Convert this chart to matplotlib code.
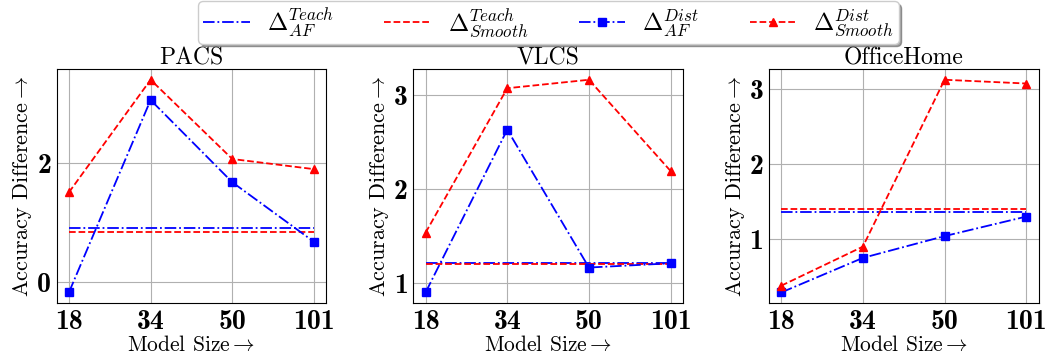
import numpy as np
import matplotlib
matplotlib.use("Agg")
import matplotlib.pyplot as plt

plt.rcParams['font.family'] = 'serif'
plt.rcParams['font.serif'] = ['cmr10']
plt.rcParams['mathtext.fontset'] = 'cm'
plt.rcParams['axes.unicode_minus'] = False

# datos
sizes = ['18', '34', '50', '101']
datasets = ['PACS', 'VLCS', 'OfficeHome']

dist_af = [[-0.17, 3.06, 1.68, 0.68],
           [0.90, 2.63, 1.165, 1.21],
           [0.29, 0.75, 1.04, 1.30]]
dist_smooth = [[1.51, 3.40, 2.07, 1.90],
               [1.535, 3.07, 3.16, 2.19],
               [0.38, 0.90, 3.12, 3.07]]
teach_af = [0.91, 1.21, 1.36]
teach_smooth = [0.85, 1.20, 1.40]

yticks = [[0, 2], [1, 2, 3], [1, 2, 3]]

fig = plt.figure(figsize=(10.49, 3.6), dpi=100)
lefts = [0.054, 0.394, 0.733]
x = np.arange(len(sizes))

for i, name in enumerate(datasets):
    ax = fig.add_axes([lefts[i], 0.158, 0.257, 0.65])
    l1, = ax.plot([x[0], x[-1]], [teach_af[i]] * 2, color='blue', ls='-.', lw=1.3)
    l2, = ax.plot([x[0], x[-1]], [teach_smooth[i]] * 2, color='red', ls='--', lw=1.3)
    l3, = ax.plot(x, dist_af[i], color='blue', ls='-.', marker='s', ms=6, lw=1.3)
    l4, = ax.plot(x, dist_smooth[i], color='red', ls='--', marker='^', ms=6, lw=1.3)
    ax.grid(True, color='#b0b0b0', lw=0.8)
    ax.set_xticks(x)
    ax.set_xticklabels(sizes, fontsize=20, family='cmb10')
    ax.set_yticks(yticks[i])
    ax.set_yticklabels([str(v) for v in yticks[i]], fontsize=20, family='cmb10')
    ax.tick_params(length=0, pad=4)
    ax.set_title(name, fontsize=17, pad=3)
    ax.set_xlabel(r'Model Size$\rightarrow$', fontsize=15.5, labelpad=0)
    ax.set_ylabel(r'Accuracy Difference$\rightarrow$', fontsize=16, labelpad=2)

fig.legend([l1, l2, l3, l4],
           [r'$\Delta^{Teach}_{AF}$', r'$\Delta^{Teach}_{Smooth}$',
            r'$\Delta^{Dist}_{AF}$', r'$\Delta^{Dist}_{Smooth}$'],
           loc='upper center', bbox_to_anchor=(0.523, 1.03), ncol=4,
           fontsize=17.5, frameon=True, shadow=True, fancybox=True,
           handlelength=1.9, handletextpad=0.7, columnspacing=2.1,
           borderpad=0.2)

plt.savefig('out.png', dpi=100)
